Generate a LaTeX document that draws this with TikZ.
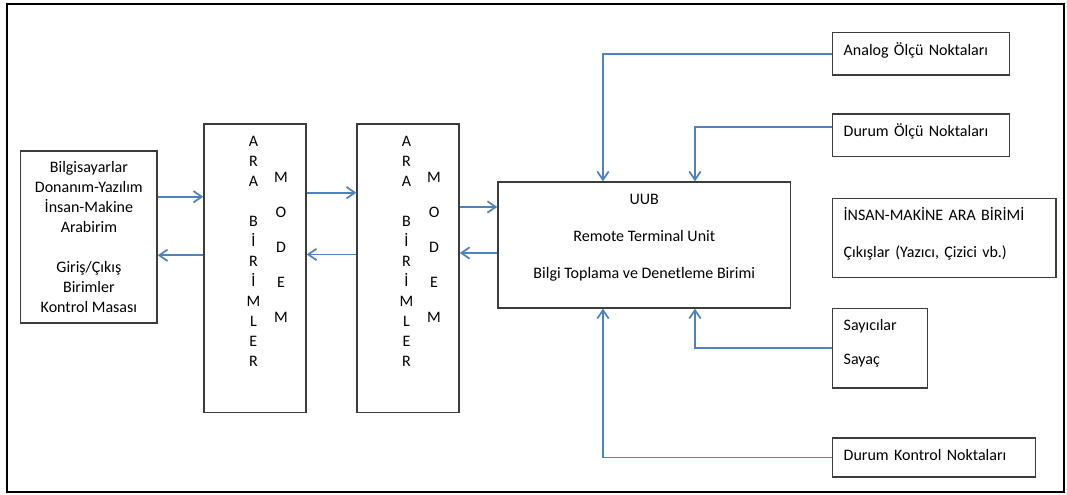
\documentclass[tikz,border=0pt]{standalone}
\usepackage{fontspec}
\setmainfont{Carlito}
\usetikzlibrary{arrows.meta,positioning}
\definecolor{linkblue}{HTML}{4F81BD}
\definecolor{edgegray}{HTML}{3C3C3C}
\tikzset{
  unit/.style={draw=edgegray, line width=1pt, inner sep=0pt, align=center,
    font=\fontsize{12}{15}\selectfont},
  sidebox/.style={draw=edgegray, line width=1pt, inner xsep=8.5pt, inner ysep=0pt,
    align=left, anchor=west, font=\fontsize{12}{15}\selectfont},
  letters/.style={inner sep=0pt, align=center, font=\fontsize{12}{15}\selectfont},
  flow/.style={-{Straight Barb[length=2.2mm, width=3mm]}, draw=linkblue, line width=1.3pt},
  frame/.style={draw=black, line width=2pt},
}

\begin{document}
\begin{tikzpicture}[x=0.75pt, y=-0.75pt]
\useasboundingbox (0,0) rectangle (1067,494);
\draw[frame] (7,4) rectangle (1064,492);

% Operator console
\node[unit, minimum width=102.2pt, minimum height=129pt] (console) at (88.9,237)
  {Bilgisayarlar\\Donanım-Yazılım\\İnsan-Makine\\Arabirim\\[15pt]Giriş/Çıkış\\Birimler\\Kontrol Masası};

% Interface units and modems
\node[unit, minimum width=76.5pt, minimum height=216.5pt] (modemA) at (255,268.3) {};
\node[unit, minimum width=76.5pt, minimum height=216.5pt, right=37.3pt of modemA] (modemB) {};

\node[letters, below=9.75pt of modemA.north, xshift=-1.2pt] (araA)
  {A\\R\\A\\[15pt]B\\İ\\R\\İ\\M\\L\\E\\R};
\node[letters, below=36.5pt of modemA.north, xshift=19.5pt] (modA)
  {M\\[11.25pt]O\\[11.25pt]D\\[11.25pt]E\\[11.25pt]M};
\node[letters, below=9.75pt of modemB.north, xshift=-1.2pt] (araB)
  {A\\R\\A\\[15pt]B\\İ\\R\\İ\\M\\L\\E\\R};
\node[letters, below=36.5pt of modemB.north, xshift=19.5pt] (modB)
  {M\\[11.25pt]O\\[11.25pt]D\\[11.25pt]E\\[11.25pt]M};

% Remote terminal unit
\node[unit, minimum width=219.5pt, minimum height=94.5pt, text height=49.5pt, text depth=0pt]
  (uub) at (644.3,245)
  {UUB\\[12.75pt]Remote Terminal Unit\\[12.75pt]Bilgi Toplama ve Denetleme Birimi};

% Field side
\node[sidebox, text width=116pt, minimum height=31.7pt, text height=2.8pt, text depth=0pt]
  (analog) at (831.7,53.8) {Analog Ölçü Noktaları};
\node[sidebox, text width=116pt, minimum height=31.7pt, text height=1.8pt, text depth=0pt,
  below=28.3pt of analog.south west, anchor=north west] (durum) {Durum Ölçü Noktaları};
\node[sidebox, text width=150.7pt, minimum height=59.3pt, text height=0pt, text depth=26.2pt,
  below=30.75pt of durum.south west, anchor=north west] (hmi)
  {İNSAN-MAKİNE ARA BİRİMİ\\[12.75pt]Çıkışlar (Yazıcı, Çizici vb.)};
\node[sidebox, text width=54.3pt, minimum height=59.8pt, text height=0pt, text depth=26.2pt,
  below=22pt of hmi.south west, anchor=north west] (counter) {Sayıcılar\\[10.5pt]Sayaç};
\node[sidebox, text width=135.5pt, minimum height=29.3pt, text height=4.2pt, text depth=0pt,
  below=36.5pt of counter.south west, anchor=north west] (control) {Durum Kontrol Noktaları};

% Links between units
\draw[flow] ([yshift=30.2pt]console.east) -- ([yshift=30.2pt]console.east -| modemA.west);
\draw[flow] ([yshift=-13.7pt]console.east -| modemA.west) -- ([yshift=-13.7pt]console.east);
\draw[flow] ([yshift=56.7pt]modemA.east) -- ([yshift=56.7pt]modemA.east -| modemB.west);
\draw[flow] ([yshift=10.4pt]modemA.east -| modemB.west) -- ([yshift=10.4pt]modemA.east);
\draw[flow] ([yshift=46pt]modemB.east) -- ([yshift=46pt]modemB.east -| uub.west);
\draw[flow] ([yshift=11.5pt]modemB.east -| uub.west) -- ([yshift=11.5pt]modemB.east);

% Field inputs
\draw[flow] (analog.west) -| ([xshift=-31pt]uub.north);
\draw[flow] ([yshift=6pt]durum.west) -| ([xshift=38pt]uub.north);
\draw[flow] (counter.west) -| ([xshift=38pt]uub.south);
\draw[flow] (control.west) -| ([xshift=-31pt]uub.south);

\end{tikzpicture}
\end{document}
